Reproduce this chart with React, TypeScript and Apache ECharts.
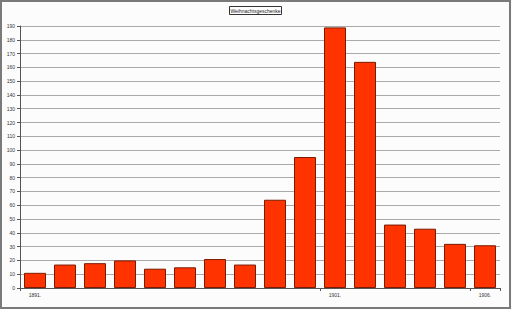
import React, { useEffect, useRef } from "react";
import * as echarts from "echarts";

const categories = [
  "1891.", "1892.", "1893.", "1894.", "1895.", "1896.", "1897.", "1898.",
  "1899.", "1900.", "1901.", "1902.", "1903.", "1904.", "1905.", "1906.",
];
const values = [11, 17, 18, 20, 14, 15, 21, 17, 64, 95, 189, 164, 46, 43, 32, 31];
const shownLabels = [0, 10, 15];
const titleText = "Weihnachtsgeschenke";

export default function App() {
  const ref = useRef<HTMLDivElement>(null);
  useEffect(() => {
    if (!ref.current) return;
    const chart = echarts.init(ref.current, null, { renderer: "svg" });
    chart.setOption({
      animation: false,
      backgroundColor: "#fcfcfc",
      graphic: [
        {
          type: "rect",
          shape: { x: 1, y: 1, width: 509, height: 307 },
          style: { fill: "none", stroke: "#7a7a7a", lineWidth: 2 },
          silent: true,
        },
        {
          type: "rect",
          shape: { x: 229.5, y: 6.5, width: 52, height: 8 },
          style: { fill: "#ffffff", stroke: "#333333", lineWidth: 1 },
          z: 10,
        },
        {
          type: "text",
          x: 255.5,
          y: 10.8,
          style: {
            text: titleText,
            fontSize: 5,
            fontFamily: "Liberation Sans",
            fill: "#222222",
            align: "center",
            verticalAlign: "middle",
          },
          z: 11,
        },
      ],
      grid: { left: 20, right: 12, top: 26, bottom: 22, containLabel: false },
      xAxis: {
        type: "category",
        data: categories,
        boundaryGap: true,
        axisLine: { show: true, lineStyle: { color: "#555555", width: 1 } },
        axisTick: { show: true, length: 3, lineStyle: { color: "#555555" } },
        axisLabel: {
          interval: (idx: number) => shownLabels.includes(idx),
          fontSize: 5,
          fontFamily: "Liberation Sans",
          color: "#333333",
          margin: 4,
        },
        splitLine: { show: false },
      },
      yAxis: {
        type: "value",
        min: 0,
        max: 190,
        interval: 10,
        axisLine: { show: true, lineStyle: { color: "#555555", width: 1 } },
        axisTick: { show: true, length: 3, lineStyle: { color: "#555555" } },
        axisLabel: {
          fontSize: 5,
          fontFamily: "Liberation Sans",
          color: "#333333",
          margin: 5,
        },
        splitLine: { show: true, lineStyle: { color: "#aaaaaa", width: 1 } },
      },
      series: [
        {
          type: "bar",
          data: values,
          barWidth: 22,
          itemStyle: {
            color: "#ff3300",
            borderColor: "#7a1a00",
            borderWidth: 1,
          },
        },
      ],
    });
    return () => chart.dispose();
  }, []);
  return <div ref={ref} style={{ width: 512, height: 310, position: "absolute", left: 0, top: 0 }} />;
}
